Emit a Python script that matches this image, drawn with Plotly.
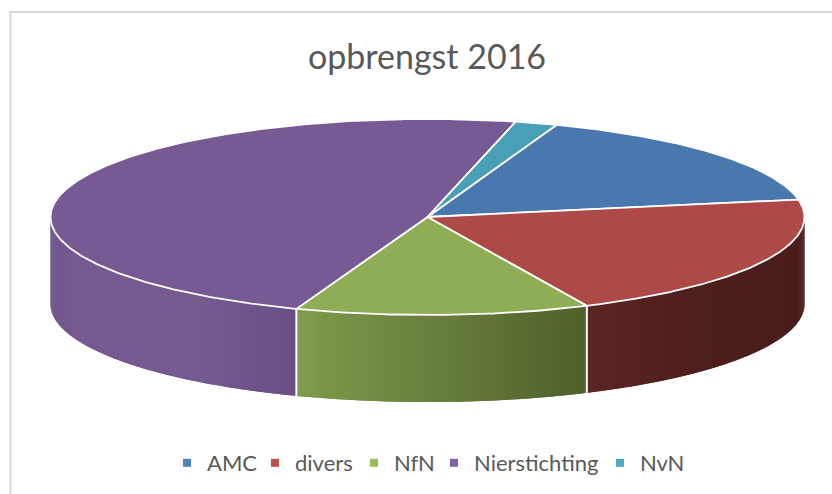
import math
import plotly.graph_objects as go

# --- data (share of revenue, %) ---
categories = ["AMC", "divers", "NfN", "Nierstichting", "NvN"]
values = [16.6, 20.9, 12.6, 48.1, 1.8]
title_text = "opbrengst 2016"

# --- styling ---
top_colors = ["#4978AE", "#AD4946", "#8FAD54", "#775A93", "#489FB6"]
legend_colors = ["#4F81BD", "#C0504D", "#9BBB59", "#8064A2", "#4BACC6"]
legend_left = [167, 255, 354, 434, 600]
wall_stops = {
    "divers": [(586, "#5C2523"), (680, "#4E1F1E"), (804, "#4A1D1C")],
    "NfN": [(297, "#7F9B4B"), (585, "#4F602C")],
    "Nierstichting": [(50, "#6F5488"), (75, "#765A91"), (200, "#755A90"), (296, "#6A4F84")],
}
W, H = 832, 494
cx, cy, rx, ry = 427.5, 217.0, 377.0, 98.0
depth = 87.0
start_angle = 70.0


def px(t):
    return cx + rx * math.cos(math.radians(t))


def py(t):
    return cy - ry * math.sin(math.radians(t))


def hex_rgb(c):
    return tuple(int(c[i:i + 2], 16) for i in (1, 3, 5))


def wall_color(cat, x):
    stops = wall_stops[cat]
    if x <= stops[0][0]:
        return stops[0][1]
    for (x0, c0), (x1, c1) in zip(stops, stops[1:]):
        if x <= x1:
            f = (x - x0) / (x1 - x0)
            a, b = hex_rgb(c0), hex_rgb(c1)
            return "rgb(%d,%d,%d)" % tuple(round(a[i] + (b[i] - a[i]) * f) for i in range(3))
    return stops[-1][1]


def arc(t0, t1):
    n = max(2, int(abs(t1 - t0) * 2))
    return [t0 + (t1 - t0) * i / n for i in range(n + 1)]


total = sum(values)
bounds = [start_angle]
for v in values:
    bounds.append(bounds[-1] - 360.0 * v / total)

fig = go.Figure()

# side walls: only the front half of the disc (angles -180..0) is visible
for i, cat in enumerate(categories):
    a0, a1 = min(bounds[i], 0.0), max(bounds[i + 1], -180.0)
    if a0 <= a1:
        continue
    ts = arc(a0, a1)
    for k in range(len(ts) - 1):
        s0 = ts[k]
        s1 = ts[min(k + 2, len(ts) - 1)]  # overlaps the next strip so no seams show
        xs = [px(s0), px(ts[k + 1]), px(s1), px(s1), px(ts[k + 1]), px(s0), px(s0)]
        ys = [py(s0), py(ts[k + 1]), py(s1), py(s1) + depth, py(ts[k + 1]) + depth, py(s0) + depth, py(s0)]
        col = wall_color(cat, (px(s0) + px(ts[k + 1])) / 2)
        fig.add_trace(go.Scatter(x=xs, y=ys, mode="lines", fill="toself", fillcolor=col,
                                 line=dict(width=0), showlegend=False, hoverinfo="skip"))

# white seams between the walls
for b in bounds:
    if -180 < b < 0:
        fig.add_trace(go.Scatter(x=[px(b), px(b)], y=[py(b), py(b) + depth], mode="lines",
                                 line=dict(color="white", width=2), showlegend=False, hoverinfo="skip"))

# top faces
for i, cat in enumerate(categories):
    ts = arc(bounds[i], bounds[i + 1])
    xs = [cx] + [px(t) for t in ts] + [cx]
    ys = [cy] + [py(t) for t in ts] + [cy]
    fig.add_trace(go.Scatter(x=xs, y=ys, mode="lines", fill="toself", fillcolor=top_colors[i],
                             line=dict(color="white", width=1.8), showlegend=False,
                             name=cat, hoverinfo="name"))

# legend entries (one small legend each, so each can sit where the reference has it)
legends = {}
for i, (cat, col, left) in enumerate(zip(categories, legend_colors, legend_left)):
    key = "legend" if i == 0 else "legend%d" % (i + 1)
    fig.add_trace(go.Scatter(x=[None], y=[None], mode="markers", name=cat, legend=key,
                             marker=dict(symbol="square", size=8, color=col)))
    legends[key] = dict(x=left / W, xanchor="left", y=1 - 463 / H, yanchor="middle",
                        font=dict(family="Lato", size=22, color="#595959"), itemclick=False,
                        itemdoubleclick=False, bgcolor="rgba(0,0,0,0)")

fig.update_layout(
    width=W, height=H, autosize=False,
    margin=dict(l=0, r=0, t=0, b=0),
    paper_bgcolor="white", plot_bgcolor="white",
    xaxis=dict(range=[0, W], visible=False, fixedrange=True),
    yaxis=dict(range=[H, 0], visible=False, fixedrange=True),
    title=dict(text=title_text, x=427 / W, xanchor="center", y=1 - 57 / H, yanchor="middle",
               font=dict(family="Lato", size=34, color="#595959")),
    shapes=[dict(type="rect", xref="x", yref="y", x0=10.5, y0=12, x1=W + 20, y1=H + 20,
                 line=dict(color="#D9D9D9", width=2), layer="below")],
    **legends,
)
fig.write_html("out.html", config=dict(displayModeBar=False),
               post_script="document.body.style.margin='0';document.body.style.overflow='hidden';")
